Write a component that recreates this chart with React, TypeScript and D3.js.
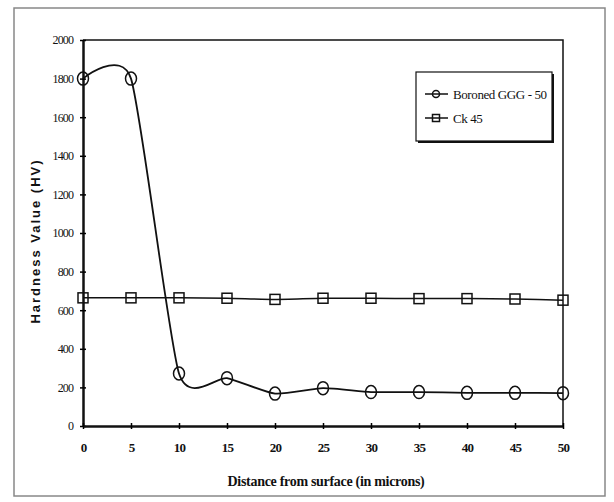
import { useRef, useEffect } from 'react';
import * as d3 from 'd3';

const distances = [0, 5, 10, 15, 20, 25, 30, 35, 40, 45, 50];
const boronedGGG50 = [1800, 1800, 272, 248, 168, 196, 176, 176, 172, 172, 170];
const ck45 = [664, 664, 664, 662, 656, 662, 662, 660, 660, 658, 652];
const yTicks = [0, 200, 400, 600, 800, 1000, 1200, 1400, 1600, 1800, 2000];
const seriesNames = ['Boroned GGG - 50', 'Ck 45'];

const App = () => {
  const svgRef = useRef<SVGSVGElement>(null);

  useEffect(() => {
    const svg = d3.select(svgRef.current);
    svg.selectAll('*').remove();

    const margin = { top: 40, right: 51, bottom: 76, left: 83 };
    const width = 614;
    const height = 502;

    // outer frame of the figure
    svg.append('rect')
      .attr('x', 14).attr('y', 8)
      .attr('width', 591).attr('height', 488)
      .attr('fill', '#fff')
      .attr('stroke', '#888')
      .attr('stroke-width', 1.5);

    const x = d3.scaleLinear()
      .domain([0, 50])
      .range([margin.left, width - margin.right]);

    const y = d3.scaleLinear()
      .domain([0, 2000])
      .range([height - margin.bottom, margin.top]);

    // top and right borders of plot area
    svg.append('path')
      .attr('d', `M${x(0)},${y(2000)}H${x(50)}V${y(0)}`)
      .attr('fill', 'none')
      .attr('stroke', '#111')
      .attr('stroke-width', 1.5);

    const yAxis = g => g
      .attr('transform', `translate(${margin.left},0)`)
      .call(d3.axisLeft(y).tickValues(yTicks).tickFormat(d3.format('d'))
        .tickSize(3).tickSizeOuter(0).tickPadding(7))
      .call(g => g.select('.domain').attr('stroke-width', 2.5).attr('stroke', '#111'))
      .call(g => g.selectAll('.tick line').attr('x2', 3).attr('x1', -3).attr('stroke-width', 1.5))
      .call(g => g.selectAll('.tick text')
        .attr('font-family', 'Liberation Serif')
        .attr('font-size', 12)
        .attr('letter-spacing', -0.9)
        .attr('fill', '#111'));

    const xAxis = g => g
      .attr('transform', `translate(0,${height - margin.bottom})`)
      .call(d3.axisBottom(x).tickValues(distances).tickSize(3).tickSizeOuter(0).tickPadding(14))
      .call(g => g.select('.domain').attr('stroke-width', 2.5).attr('stroke', '#111'))
      .call(g => g.selectAll('.tick line').attr('y1', -3).attr('y2', 3).attr('stroke-width', 1.5))
      .call(g => g.selectAll('.tick text')
        .attr('font-family', 'Liberation Serif')
        .attr('font-weight', 'bold')
        .attr('font-size', 13)
        .attr('letter-spacing', -0.8)
        .attr('fill', '#111'));

    svg.append('g').call(yAxis);
    svg.append('g').call(xAxis);

    const pts1 = distances.map((d, i) => [d, boronedGGG50[i]]);
    const pts2 = distances.map((d, i) => [d, ck45[i]]);

    // spreadsheet-style smoothed line
    const line = d3.line()
      .x(d => x(d[0]))
      .y(d => y(d[1]))
      .curve(d3.curveCardinal.tension(0.38));

    svg.append('path')
      .datum(pts2)
      .attr('d', line)
      .attr('fill', 'none')
      .attr('stroke', '#111')
      .attr('stroke-width', 1.5);

    svg.append('path')
      .datum(pts1)
      .attr('d', line)
      .attr('fill', 'none')
      .attr('stroke', '#111')
      .attr('stroke-width', 1.8);

    svg.append('g').selectAll('rect')
      .data(pts2)
      .join('rect')
      .attr('x', d => x(d[0]) - 5)
      .attr('y', d => y(d[1]) - 5)
      .attr('width', 10)
      .attr('height', 10)
      .attr('fill', 'none')
      .attr('stroke', '#111')
      .attr('stroke-width', 1.5);

    svg.append('g').selectAll('ellipse')
      .data(pts1)
      .join('ellipse')
      .attr('cx', d => x(d[0]))
      .attr('cy', d => y(d[1]))
      .attr('rx', 5.5)
      .attr('ry', 6.5)
      .attr('fill', 'none')
      .attr('stroke', '#111')
      .attr('stroke-width', 1.5);

    // legend
    const legend = svg.append('g');
    legend.append('rect')
      .attr('x', 418).attr('y', 74)
      .attr('width', 136).attr('height', 69)
      .attr('fill', '#111');
    legend.append('rect')
      .attr('x', 416).attr('y', 72)
      .attr('width', 136).attr('height', 69)
      .attr('fill', '#fff')
      .attr('stroke', '#111')
      .attr('stroke-width', 1.2);

    seriesNames.forEach((name, i) => {
      const ly = 94 + i * 24;
      legend.append('line')
        .attr('x1', 425).attr('x2', 448)
        .attr('y1', ly).attr('y2', ly)
        .attr('stroke', '#111')
        .attr('stroke-width', 1.5);
      if (i === 0) {
        legend.append('circle')
          .attr('cx', 436).attr('cy', ly).attr('r', 3.5)
          .attr('fill', 'none').attr('stroke', '#111').attr('stroke-width', 1.5);
      } else {
        legend.append('rect')
          .attr('x', 432.5).attr('y', ly - 3.5).attr('width', 7).attr('height', 7)
          .attr('fill', 'none').attr('stroke', '#111').attr('stroke-width', 1.5);
      }
      legend.append('text')
        .attr('x', 453).attr('y', ly + 4.5)
        .attr('font-family', 'Liberation Serif')
        .attr('font-size', 13)
        .attr('letter-spacing', -0.4)
        .attr('fill', '#111')
        .text(name);
    });

    // axis titles
    svg.append('text')
      .attr('transform', `translate(40,${(y(0) + y(2000)) / 2 + 8}) rotate(-90)`)
      .attr('text-anchor', 'middle')
      .attr('font-family', 'Liberation Sans')
      .attr('font-weight', 'bold')
      .attr('font-size', 13)
      .attr('letter-spacing', 2)
      .attr('fill', '#111')
      .text('Hardness Value (HV)');

    svg.append('text')
      .attr('x', 326).attr('y', 486)
      .attr('text-anchor', 'middle')
      .attr('font-family', 'Liberation Serif')
      .attr('font-weight', 'bold')
      .attr('font-size', 14)
      .attr('letter-spacing', -0.3)
      .attr('fill', '#111')
      .text('Distance from surface (in microns)');
  }, []);

  return (
    <svg
      ref={svgRef}
      width="614"
      height="502"
      style={{ position: 'absolute', left: 0, top: 0, background: '#fff' }}
    ></svg>
  );
};

export default App;
